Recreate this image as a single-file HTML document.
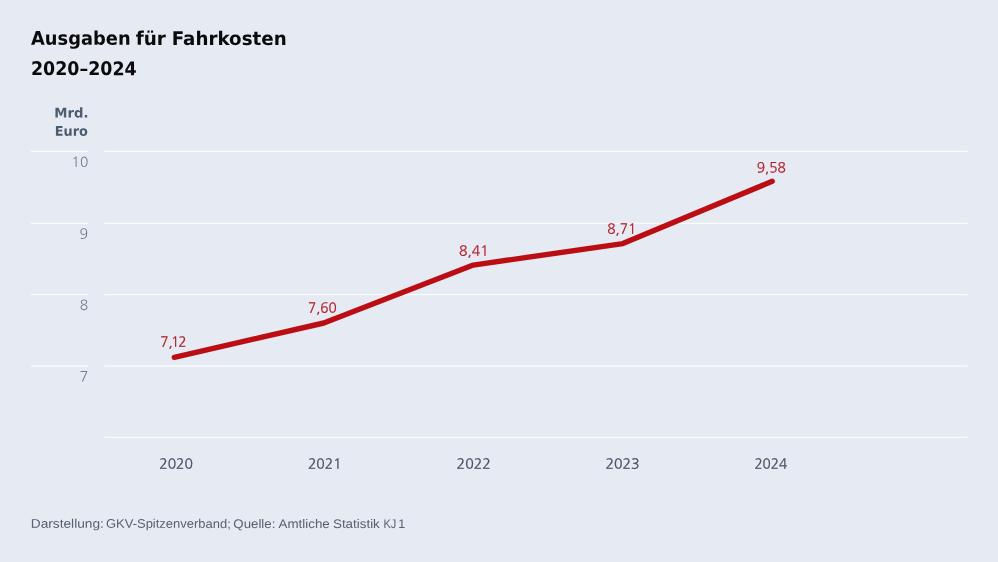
<!DOCTYPE html>
<html lang="de">
<head>
<meta charset="utf-8">
<title>Ausgaben für Fahrkosten 2020–2024</title>
<style>
html,body{margin:0;padding:0;background:#e6eaf3;}
body{width:998px;height:562px;overflow:hidden;font-family:"Liberation Sans",sans-serif;}
svg{display:block;}
text{font-family:"Liberation Sans",sans-serif;transform:matrix(1,0.001,0,1,0,0);}
.title{font-family:"DejaVu Sans","Liberation Sans",sans-serif;font-weight:bold;font-size:18.8px;fill:#0b0b0b;}
.unit{font-family:"DejaVu Sans","Liberation Sans",sans-serif;font-weight:bold;font-size:13.4px;fill:#4c5c6f;}
.ytick,.xtick,.val{font-family:"NanumGothic","Liberation Sans",sans-serif;font-size:14px;}
.ytick{fill:#6f7d8c;}
.xtick{fill:#465160;stroke:#465160;stroke-width:0.3;}
.val{fill:#b01c26;stroke:#b01c26;stroke-width:0.25;}
.foot{font-size:12.5px;fill:#56616d;}
.grid{stroke:#fafcff;stroke-width:1.25;}
</style>
</head>
<body>
<svg width="998" height="562" viewBox="0 0 998 562">
<rect width="998" height="562" fill="#e6eaf3"/>
<text class="title" y="44.74"><tspan x="31.07" textLength="99.53" lengthAdjust="spacingAndGlyphs">Ausgaben</tspan> <tspan x="135.68" textLength="30.2" lengthAdjust="spacingAndGlyphs">für</tspan> <tspan x="171.68" textLength="114.97" lengthAdjust="spacingAndGlyphs">Fahrkosten</tspan></text>
<text class="title" x="30.92" y="75.02" textLength="105.8" lengthAdjust="spacingAndGlyphs">2020–2024</text>
<text class="unit" x="54.25" y="117.53" textLength="34.23" lengthAdjust="spacingAndGlyphs">Mrd.</text>
<text class="unit" x="54.77" y="135.63" textLength="33.16" lengthAdjust="spacingAndGlyphs">Euro</text>
<g class="grid">
<line x1="31" x2="88" y1="151.45" y2="151.45"/><line x1="104.4" x2="967.5" y1="151.45" y2="151.45"/>
<line x1="31" x2="88" y1="223.25" y2="223.25"/><line x1="104.4" x2="967.5" y1="223.25" y2="223.25"/>
<line x1="31" x2="88" y1="294.5" y2="294.5"/><line x1="104.4" x2="967.5" y1="294.5" y2="294.5"/>
<line x1="31" x2="88" y1="365.9" y2="365.9"/><line x1="104.4" x2="967.5" y1="365.9" y2="365.9"/>
<line x1="104.4" x2="967.5" y1="437.45" y2="437.45"/>
</g>
<text class="ytick" x="71.6" y="166.92" textLength="16.61" lengthAdjust="spacingAndGlyphs">10</text>
<text class="ytick" x="79.53" y="238.62" textLength="8.61" lengthAdjust="spacingAndGlyphs">9</text>
<text class="ytick" x="79.72" y="310.02" textLength="8.43" lengthAdjust="spacingAndGlyphs">8</text>
<text class="ytick" x="79.6" y="381.52" textLength="8.92" lengthAdjust="spacingAndGlyphs">7</text>
<polyline points="174.3,357.3 323.8,323 473.3,265.1 622.8,243.6 772.2,181.3" fill="none" stroke="#bb0e14" stroke-width="5.4" stroke-linecap="round" stroke-linejoin="round"/>
<text class="val" x="160.32" y="346.53" textLength="26.2" lengthAdjust="spacingAndGlyphs">7,<tspan dx="-1.94">1</tspan><tspan dx="-1.02">2</tspan></text>
<text class="val" x="308.0" y="312.48" textLength="28.8" lengthAdjust="spacingAndGlyphs">7,60</text>
<text class="val" x="458.95" y="255.23" textLength="29.73" lengthAdjust="spacingAndGlyphs">8,41</text>
<text class="val" x="607.25" y="233.08" textLength="29.15" lengthAdjust="spacingAndGlyphs">8,71</text>
<text class="val" x="756.73" y="171.83" textLength="29.04" lengthAdjust="spacingAndGlyphs">9,58</text>
<text class="xtick" x="159.22" y="468.62" textLength="33.67" lengthAdjust="spacingAndGlyphs">2020</text>
<text class="xtick" x="307.93" y="468.48" textLength="33.68" lengthAdjust="spacingAndGlyphs">2021</text>
<text class="xtick" x="456.62" y="468.33" textLength="34.2" lengthAdjust="spacingAndGlyphs">2022</text>
<text class="xtick" x="605.42" y="468.18" textLength="34.07" lengthAdjust="spacingAndGlyphs">2023</text>
<text class="xtick" x="754.42" y="468.03" textLength="32.79" lengthAdjust="spacingAndGlyphs">2024</text>
<text class="foot" y="527.68"><tspan x="30.77" textLength="73.08" lengthAdjust="spacingAndGlyphs">Darstellung:</tspan> <tspan x="105.97" textLength="124.78" lengthAdjust="spacingAndGlyphs">GKV-Spitzenverband;</tspan> <tspan x="233.38" textLength="41.99" lengthAdjust="spacingAndGlyphs">Quelle:</tspan> <tspan x="278.5" textLength="51.28" lengthAdjust="spacingAndGlyphs">Amtliche</tspan> <tspan x="332.98" textLength="46.84" lengthAdjust="spacingAndGlyphs">Statistik</tspan> <tspan x="383.43" textLength="12.84" lengthAdjust="spacingAndGlyphs">KJ</tspan> <tspan x="398.2" textLength="6.95" lengthAdjust="spacingAndGlyphs">1</tspan></text>
</svg>
</body>
</html>
